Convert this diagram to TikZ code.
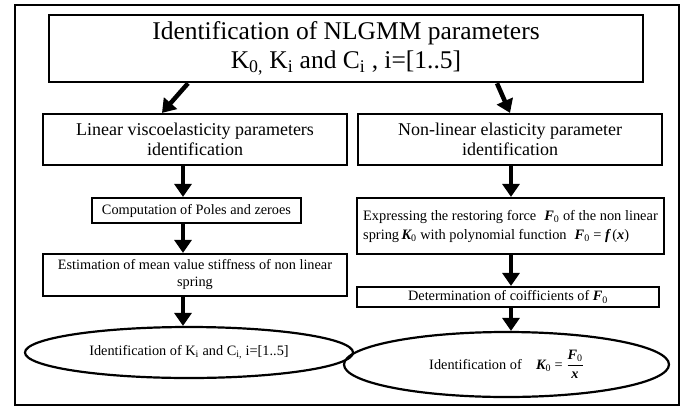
\documentclass[tikz,border=0pt]{standalone}
\usepackage{amsmath}
\usepackage{fontspec}
\setmainfont{Liberation Serif}
\usetikzlibrary{shapes.geometric,arrows.meta,calc}
\newcommand{\bvar}[1]{\mbox{\bfseries\itshape #1}}
\newcommand{\bsub}[2]{\bvar{#1}\textsubscript{#2}}
\begin{document}
\begin{tikzpicture}[x=1pt,y=-1pt,
  box/.style={draw,line width=2.2pt,inner sep=1pt,align=center},
  ell/.style={draw,ellipse,line width=2.2pt,inner sep=0pt},
  arr/.style={line width=4.5pt,-{Triangle[width=17pt,length=13pt]}},
  bigtxt/.style={font=\fontsize{25.5}{29}\selectfont},
  midtxt/.style={font=\fontsize{18}{20.5}\selectfont},
  smalltxt/.style={font=\fontsize{14.3}{17}\selectfont}]
\useasboundingbox (0,0) rectangle (694,408);
\node[draw,line width=2pt,minimum width=664pt,minimum height=400pt,inner sep=0pt] (frame) at (347,205) {};
\node[box,bigtxt,line width=2.6pt,minimum width=594pt,minimum height=67pt] (top) at (346,48.5)
  {Identification of NLGMM parameters\\K\textsubscript{0,} K\textsubscript{i} and C\textsubscript{i} , i=[1..5]};
\node[box,midtxt,minimum width=304pt,minimum height=51pt] (lv) at (195,139.5)
  {Linear viscoelasticity parameters\\identification};
\node[box,midtxt,minimum width=304pt,minimum height=51pt] (nl) at (510,139.5)
  {Non-linear elasticity parameter\\identification};
\node[box,smalltxt,minimum width=209pt,minimum height=25pt] (poles) at (196.5,210.5)
  {Computation of Poles and zeroes};
\node[box,smalltxt,minimum width=304pt,minimum height=42pt] (est) at (195,275)
  {Estimation of mean value stiffness of non linear\\spring};
\node[ell,smalltxt,minimum width=328pt,minimum height=51pt] (idk) at (189,352.5)
  {Identification of K\textsubscript{i} and C\textsubscript{i,} i=[1..5]};
\node[box,font=\fontsize{14.4}{19}\selectfont,align=left,minimum width=307pt,minimum height=56pt] (expr) at (510.5,226)
  {Expressing the restoring force\hspace{8pt}\bsub{F}{0} of the non linear\\spring\,\bsub{K}{0} with polynomial function\hspace{8pt}\bsub{F}{0} = \bvar{f}\,(\bvar{x})};
\node[box,smalltxt,minimum width=302pt,minimum height=20pt] (coef) at (508,297)
  {Determination of coifficients of~\bsub{F}{0}};
\node[ell,smalltxt,minimum width=325pt,minimum height=65pt] (idk0) at (506.5,364.5)
  {Identification of\quad \bsub{K}{0} = $\dfrac{\bsub{F}{0}}{\bvar{x}}$};
\draw[arr] (top.south -| 188,0) -- (lv.north -| 162,0);
\draw[arr] (top.south -| 497,0) -- (nl.north -| 510,0);
\draw[arr] (lv.south -| 183,0) -- (poles.north -| 183,0);
\draw[arr] (poles.south -| 183,0) -- (est.north -| 183,0);
\draw[arr] (est.south -| 183,0) -- (idk.north -| 183,0);
\draw[arr] (nl.south -| 511,0) -- (expr.north -| 511,0);
\draw[arr] (expr.south -| 511,0) -- (coef.north -| 511,0);
\draw[arr] (coef.south -| 511,0) -- (idk0.north -| 511,0);
\end{tikzpicture}
\end{document}
